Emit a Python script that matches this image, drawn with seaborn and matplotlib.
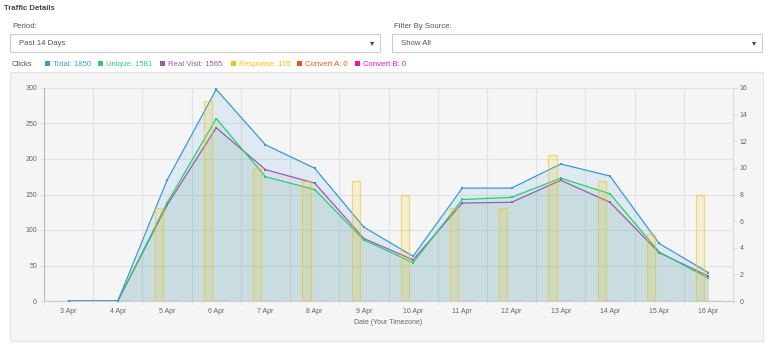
import matplotlib
matplotlib.use("Agg")
import matplotlib.pyplot as plt
import seaborn as sns
import pandas as pd
from matplotlib.patches import Rectangle

# ---------------- data ----------------
dates = ['3 Apr', '4 Apr', '5 Apr', '6 Apr', '7 Apr', '8 Apr', '9 Apr',
         '10 Apr', '11 Apr', '12 Apr', '13 Apr', '14 Apr', '15 Apr', '16 Apr']
total = [0, 0, 170, 298, 220, 187, 104, 63, 159, 159, 193, 176, 81, 40]
unique = [0, 0, 138, 257, 175, 157, 86, 54, 143, 146, 173, 151, 69, 32]
real_visit = [0, 0, 135, 244, 185, 166, 88, 58, 138, 139, 170, 139, 68, 35]
response = [0, 0, 7, 15, 10, 9, 9, 8, 7, 7, 11, 9, 5, 8]
convert_a = [0, 0, 0, 0, 0, 0, 0, 0, 0, 0, 0, 0, 0, 0]
convert_b = [0, 0, 0, 0, 0, 0, 0, 0, 0, 0, 0, 0, 0, 0]
legend_labels = ['Total: 1850', 'Unique: 1581', 'Real Visit: 1565',
                 'Response: 105', 'Convert A: 0', 'Convert B: 0']
left_ticks = [0, 50, 100, 150, 200, 250, 300]
right_ticks = [0, 2, 4, 6, 8, 10, 12, 14, 16]

C_TOTAL = '#3a9ad9'
C_UNIQUE = '#2ecc71'
C_REAL = '#9b59b6'
C_RESP = '#f1c40f'
C_CA = '#e8590c'
C_CB = '#f012be'
colors = [C_TOTAL, C_UNIQUE, C_REAL, C_RESP, C_CA, C_CB]

sns.set_style('white')
plt.rcParams['font.family'] = ['Liberation Sans', 'DejaVu Sans']

W, H = 768, 347
fig = plt.figure(figsize=(W / 100, H / 100), dpi=100)
fig.patch.set_facecolor('white')


def fx(x):
    return x / W


def fy(y):
    return 1 - y / H


def rect(x0, y0, x1, y1, **kw):
    r = Rectangle((fx(x0), fy(y1)), fx(x1) - fx(x0), fy(y0) - fy(y1),
                  transform=fig.transFigure, **kw)
    fig.add_artist(r)
    return r


# header texts
fig.text(fx(4), fy(9), 'Traffic Details', fontsize=5.6, fontweight='bold',
         color='#444444', va='center', ha='left')
fig.text(fx(12), fy(26), 'Period:', fontsize=5.6, color='#555555', va='center')
fig.text(fx(394), fy(26), 'Filter By Source:', fontsize=5.6, color='#555555', va='center')

# dropdowns
for x0, x1, label in [(10, 380, 'Past 14 Days'), (392, 762, 'Show All')]:
    rect(x0, 34, x1, 52, facecolor='white', edgecolor='#cccccc', linewidth=0.8)
    fig.text(fx(x0 + 9), fy(43.5), label, fontsize=5.6, color='#555555', va='center')
    fig.text(fx(x1 - 8), fy(43), '\u25BE', fontsize=6, color='#444444',
             va='center', ha='center', family=['DejaVu Sans'])

# legend row
fig.text(fx(12), fy(64), 'Clicks', fontsize=5.6, color='#555555', va='center')
leg_x = [45, 98, 160, 231, 297, 355]
for x, c, lab in zip(leg_x, colors, legend_labels):
    rect(x, 61, x + 5, 66, facecolor=c, edgecolor='none')
    fig.text(fx(x + 8), fy(64), lab, fontsize=5.6, color=c, va='center')

# chart panel (behind axes)
rect(10, 72, 763, 341, facecolor='#f5f5f5', edgecolor='#e4e4e4', linewidth=0.8, zorder=-10)

# axes
ax = fig.add_axes([fx(44), fy(301), fx(733) - fx(44), fy(88) - fy(301)])
ax.set_zorder(1)
ax.patch.set_visible(False)
ax2 = ax.twinx()
ax2.set_zorder(2)
ax2.patch.set_visible(False)

pos = list(range(len(dates)))

# filled area lines
for vals, c, a in [(total, C_TOTAL, 0.12), (unique, C_UNIQUE, 0.10), (real_visit, C_REAL, 0.06)]:
    ax.fill_between(pos, vals, 0, color=c, alpha=a, linewidth=0, zorder=1)
for vals, c in [(real_visit, C_REAL), (unique, C_UNIQUE), (total, C_TOTAL)]:
    sns.lineplot(x=pos, y=vals, ax=ax, color=c, linewidth=0.9, marker='s',
                 markersize=2.1, markeredgewidth=0, zorder=3)

# bars (right axis)
df = pd.DataFrame({
    'day': dates * 3,
    'series': ['Response'] * len(dates) + ['Convert A'] * len(dates) + ['Convert B'] * len(dates),
    'value': response + convert_a + convert_b,
})
sns.barplot(data=df, x='day', y='value', hue='series', order=dates,
            hue_order=['Response', 'Convert A', 'Convert B'],
            palette=[C_RESP, C_CA, C_CB], width=0.5, saturation=1,
            ax=ax2, legend=False, errorbar=None)
for p in ax2.patches:
    fc = p.get_facecolor()
    p.set_facecolor((fc[0], fc[1], fc[2], 0.14))
    p.set_edgecolor((fc[0], fc[1], fc[2], 0.55))
    p.set_linewidth(0.9)
    p.set_zorder(2)

# scales
ax.set_xlim(-0.5, len(dates) - 0.5)
ax2.set_xlim(-0.5, len(dates) - 0.5)
ax.set_ylim(0, 300)
ax2.set_ylim(0, 16)
ax.set_yticks(left_ticks)
ax2.set_yticks(right_ticks)
ax.set_xticks(pos)
ax.set_xticklabels(dates)
ax.set_xticks([p - 0.5 for p in pos] + [len(dates) - 0.5], minor=True)

ax.grid(True, axis='y', color='#e2e2e2', linewidth=0.8)
ax.grid(True, axis='x', which='minor', color='#e2e2e2', linewidth=0.8)
ax.grid(False, axis='x', which='major')
ax.set_axisbelow(True)

ax.tick_params(axis='x', which='major', length=0, labelsize=5, labelcolor='#666666', pad=5)
ax.tick_params(axis='x', which='minor', length=3, color='#dddddd', bottom=True)
ax.tick_params(axis='y', length=3, color='#e2e2e2', labelsize=5, labelcolor='#666666', pad=2)
ax2.tick_params(axis='y', length=3, color='#dddddd', labelsize=5, labelcolor='#666666', pad=2)
ax2.tick_params(axis='x', length=0, labelbottom=False)

for a in (ax, ax2):
    a.spines['top'].set_visible(False)
    a.set_ylabel('')
    a.set_xlabel('')
ax.spines['left'].set_color('#bbbbbb')
ax.spines['bottom'].set_color('#cccccc')
ax.spines['right'].set_visible(False)
ax2.spines['left'].set_visible(False)
ax2.spines['bottom'].set_visible(False)
ax2.spines['right'].set_color('#dddddd')

fig.text(fx(388), fy(323), 'Date (Your Timezone)', fontsize=5, color='#666666',
         ha='center', va='center')

fig.savefig('out.png', dpi=100)
